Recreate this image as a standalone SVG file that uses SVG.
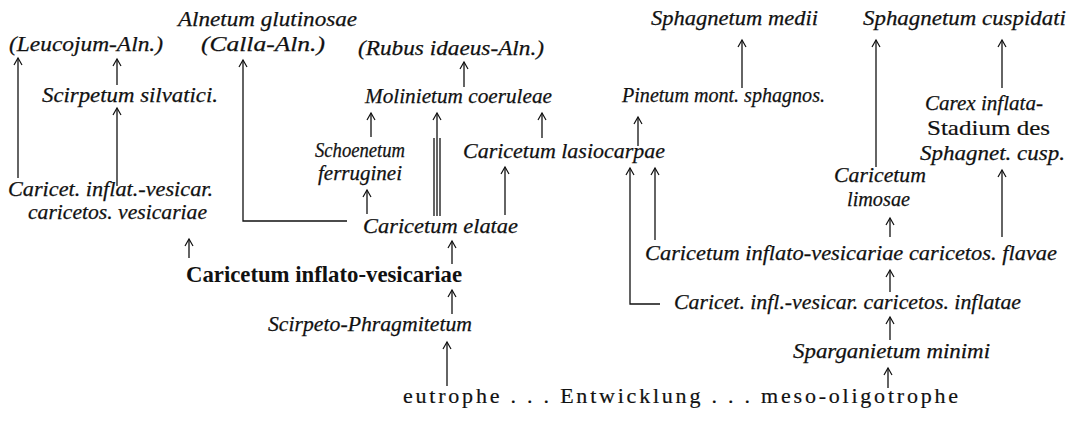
<svg xmlns="http://www.w3.org/2000/svg" width="1071" height="424" viewBox="0 0 1071 424">
<style>
.i{font-family:"Liberation Serif",serif;font-style:italic;font-size:22px;fill:#111;stroke:#111;stroke-width:0.25}
.s{font-size:20px}
.u{font-family:"Liberation Serif",serif;font-size:22px;fill:#111;stroke:#111;stroke-width:0.2}
.b{font-family:"Liberation Serif",serif;font-weight:bold;font-size:23px;fill:#111}
.c{stroke:#111;stroke-width:1.3;fill:none}
.a{marker-end:url(#ah)}
</style>
<defs>
<marker id="ah" markerUnits="userSpaceOnUse" markerWidth="12" markerHeight="12" viewBox="-9 -6 12 12" refX="0" refY="0" orient="auto">
<path d="M-7,-4 L0,0 L-7,4" stroke="#111" stroke-width="1.2" fill="none"/>
</marker>
</defs>
<rect width="1071" height="424" fill="#fff"/>
<g id="connectors">
<line class="c a" x1="18" y1="178" x2="18" y2="58"/>
<line class="c a" x1="117" y1="85" x2="117" y2="59"/>
<line class="c a" x1="117" y1="186" x2="117" y2="108"/>
<path class="c a" d="M347,221 H243 V60"/>
<line class="c a" x1="464" y1="87" x2="464" y2="62"/>
<line class="c a" x1="371" y1="137" x2="371" y2="113"/>
<line class="c a" x1="437" y1="138" x2="437" y2="113"/>
<line class="c" x1="434" y1="138" x2="434" y2="216"/>
<line class="c" x1="437" y1="138" x2="437" y2="216"/>
<line class="c" x1="440" y1="138" x2="440" y2="216"/>
<line class="c a" x1="542" y1="138" x2="542" y2="113"/>
<line class="c a" x1="638" y1="146" x2="638" y2="117"/>
<line class="c a" x1="742" y1="88" x2="742" y2="40"/>
<line class="c a" x1="876" y1="167" x2="876" y2="40"/>
<line class="c a" x1="1002" y1="88" x2="1002" y2="40"/>
<line class="c a" x1="367" y1="214" x2="367" y2="190"/>
<line class="c a" x1="505" y1="215" x2="505" y2="167"/>
<path class="c a" d="M660,304 H630 V168"/>
<line class="c a" x1="655" y1="240" x2="655" y2="168"/>
<line class="c a" x1="890" y1="237" x2="890" y2="218"/>
<line class="c a" x1="1002" y1="237" x2="1002" y2="170"/>
<line class="c a" x1="189" y1="258" x2="189" y2="239"/>
<line class="c a" x1="452" y1="264" x2="452" y2="241"/>
<line class="c a" x1="890" y1="292" x2="890" y2="270"/>
<line class="c a" x1="452" y1="314" x2="452" y2="290"/>
<line class="c a" x1="890" y1="340" x2="890" y2="317"/>
<line class="c a" x1="447" y1="386" x2="447" y2="342"/>
<line class="c a" x1="888" y1="388" x2="888" y2="368"/>
</g>
<g id="alnetum-glutinosae"><text class="i" x="178" y="26" textLength="179" lengthAdjust="spacingAndGlyphs">Alnetum glutinosae</text></g>
<g id="leucojum-aln"><text class="i" x="9" y="51" textLength="154" lengthAdjust="spacingAndGlyphs">(Leucojum-Aln.)</text></g>
<g id="calla-aln"><text class="i" x="201" y="51" textLength="124" lengthAdjust="spacingAndGlyphs">(Calla-Aln.)</text></g>
<g id="rubus-aln"><text class="i" x="358" y="55" textLength="186" lengthAdjust="spacingAndGlyphs">(Rubus idaeus-Aln.)</text></g>
<g id="sphagnetum-medii"><text class="i" x="651" y="25" textLength="167" lengthAdjust="spacingAndGlyphs">Sphagnetum medii</text></g>
<g id="sphagnetum-cuspidati"><text class="i" x="863" y="25" textLength="203" lengthAdjust="spacingAndGlyphs">Sphagnetum cuspidati</text></g>
<g id="scirpetum-silvatici"><text class="i" x="42" y="102" textLength="176" lengthAdjust="spacingAndGlyphs">Scirpetum silvatici.</text></g>
<g id="molinietum"><text class="i" x="365" y="103" textLength="187" lengthAdjust="spacingAndGlyphs">Molinietum coeruleae</text></g>
<g id="pinetum"><text class="i" x="622" y="102" textLength="203" lengthAdjust="spacingAndGlyphs">Pinetum mont. sphagnos.</text></g>
<g id="carex-inflata-stadium">
<text class="i" x="925" y="110" textLength="118" lengthAdjust="spacingAndGlyphs">Carex inflata-</text>
<text class="u" x="927" y="135" textLength="123" lengthAdjust="spacingAndGlyphs">Stadium des</text>
<text class="i" x="920" y="160" textLength="145" lengthAdjust="spacingAndGlyphs">Sphagnet. cusp.</text>
</g>
<g id="schoenetum">
<text class="i s" x="315" y="157" textLength="90" lengthAdjust="spacingAndGlyphs">Schoenetum</text>
<text class="i s" x="318" y="180" textLength="84" lengthAdjust="spacingAndGlyphs">ferruginei</text>
</g>
<g id="caricetum-lasiocarpae"><text class="i" x="463" y="158" textLength="202" lengthAdjust="spacingAndGlyphs">Caricetum lasiocarpae</text></g>
<g id="caricetum-limosae">
<text class="i" x="834" y="182" textLength="92" lengthAdjust="spacingAndGlyphs">Caricetum</text>
<text class="i" x="847" y="206" textLength="63" lengthAdjust="spacingAndGlyphs">limosae</text>
</g>
<g id="caricet-vesicariae">
<text class="i" x="8" y="196" textLength="205" lengthAdjust="spacingAndGlyphs">Caricet. inflat.-vesicar.</text>
<text class="i" x="28" y="219" textLength="179" lengthAdjust="spacingAndGlyphs">caricetos. vesicariae</text>
</g>
<g id="caricetum-elatae"><text class="i" x="363" y="233" textLength="155" lengthAdjust="spacingAndGlyphs">Caricetum elatae</text></g>
<g id="caricetos-flavae"><text class="i" x="645" y="260" textLength="412" lengthAdjust="spacingAndGlyphs">Caricetum inflato-vesicariae caricetos. flavae</text></g>
<g id="caricetum-inflato-vesicariae"><text class="b" x="186" y="282" textLength="276" lengthAdjust="spacingAndGlyphs">Caricetum inflato-vesicariae</text></g>
<g id="caricetos-inflatae"><text class="i" x="674" y="309" textLength="347" lengthAdjust="spacingAndGlyphs">Caricet. infl.-vesicar. caricetos. inflatae</text></g>
<g id="scirpeto-phragmitetum"><text class="i" x="268" y="331" textLength="204" lengthAdjust="spacingAndGlyphs">Scirpeto-Phragmitetum</text></g>
<g id="sparganietum-minimi"><text class="i" x="793" y="358" textLength="197" lengthAdjust="spacingAndGlyphs">Sparganietum minimi</text></g>
<g id="entwicklung"><text class="u" x="403" y="403" textLength="555" lengthAdjust="spacing">eutrophe . . . Entwicklung . . . meso-oligotrophe</text></g>
</svg>
